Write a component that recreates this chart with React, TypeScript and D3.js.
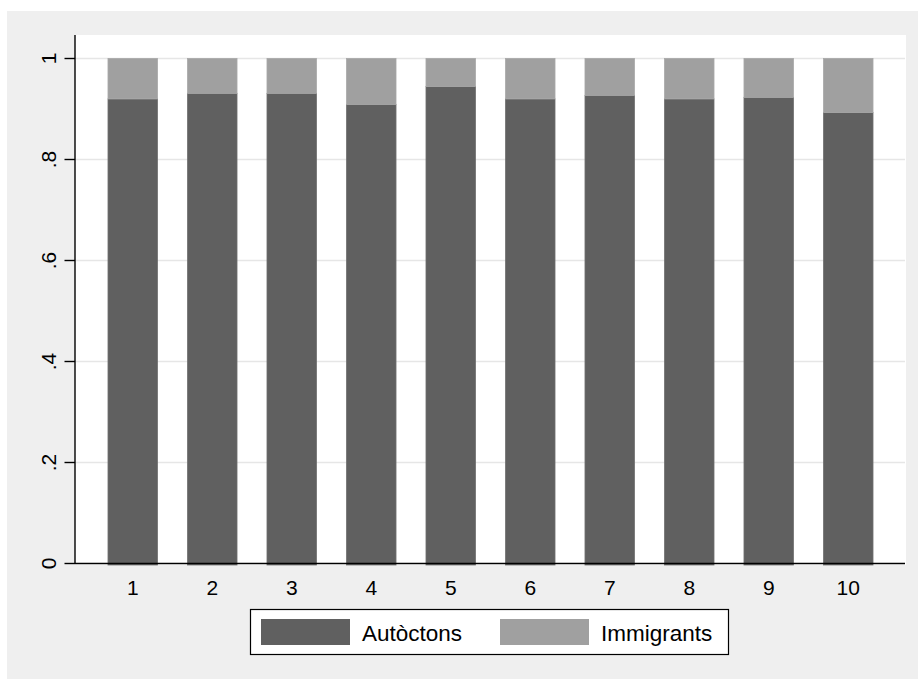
import React from "react";
import * as d3 from "d3";

const categories = ["1", "2", "3", "4", "5", "6", "7", "8", "9", "10"];
const autoctons = [0.92, 0.931, 0.931, 0.909, 0.9445, 0.92, 0.927, 0.92, 0.923, 0.893];
const immigrants = autoctons.map((v) => 1 - v);
const yTicks = [0, 0.2, 0.4, 0.6, 0.8, 1];
const yTickLabels = ["0", ".2", ".4", ".6", ".8", "1"];
const seriesNames = ["Autòctons", "Immigrants"];
const seriesColors = ["#606060", "#a0a0a0"];

const W = 918;
const H = 679;
const plot = { left: 75, right: 906, top: 35, bottom: 565 };
const font = "'Liberation Sans', Arial, Helvetica, sans-serif";

export default function App() {
  const x = d3
    .scaleBand<string>()
    .domain(categories)
    .range([plot.left, plot.right])
    .paddingInner(0.377)
    .paddingOuter(0.415);
  const y = d3.scaleLinear().domain([0, 1]).range([563.5, 58.5]);

  const rows = categories.map((c, i) => ({ cat: c, a: autoctons[i], b: immigrants[i] }));
  const stack = d3.stack<any>().keys(["a", "b"])(rows);

  return (
    <svg
      width={W}
      height={H}
      style={{ position: "absolute", left: 0, top: 0, fontFamily: font }}
    >
      <rect x={7} y={11} width={W - 7} height={H - 11} fill="#efefef" />
      <rect x={plot.left} y={plot.top} width={plot.right - plot.left} height={plot.bottom - plot.top} fill="#ffffff" />
      {yTicks.slice(1).map((t) => (
        <line key={t} x1={plot.left} x2={905} y1={y(t)} y2={y(t)} stroke="#e6e6e6" strokeWidth={1.6} />
      ))}
      {stack.map((s, si) => (
        <g key={si}>
          {s.map((d: any, i: number) => (
            <rect
              key={i}
              x={x(categories[i])!}
              width={x.bandwidth()}
              y={y(d[1])}
              height={y(d[0]) - y(d[1]) + (si === 0 ? 1.5 : 0)}
              fill={seriesColors[si]}
              stroke={si === 0 ? "#707070" : "#a8a8a8"}
              strokeWidth={0.8}
            />
          ))}
        </g>
      ))}
      <line x1={plot.left} x2={905} y1={y(0)} y2={y(0)} stroke="#000" strokeWidth={1.4} />
      <line x1={plot.left} x2={plot.left} y1={plot.top} y2={y(0)} stroke="#000" strokeWidth={1.4} />
      {yTicks.map((t, i) => (
        <g key={t}>
          <line x1={64.5} x2={plot.left} y1={y(t)} y2={y(t)} stroke="#000" strokeWidth={1.4} />
          <text
            transform={`translate(56,${y(t)}) rotate(-90)`}
            textAnchor="middle"
            fontSize={21}
            fill="#000"
          >
            {yTickLabels[i]}
          </text>
        </g>
      ))}
      {categories.map((c) => (
        <text key={c} x={x(c)! + x.bandwidth() / 2} y={595} textAnchor="middle" fontSize={21} fill="#000">
          {c}
        </text>
      ))}
      <g>
        <rect x={250.5} y={609.5} width={478} height={45} fill="#fff" stroke="#000" strokeWidth={1.2} />
        {seriesNames.map((n, i) => {
          const sx = i === 0 ? 261 : 500;
          return (
            <g key={n}>
              <rect x={sx} y={619} width={89} height={26} fill={seriesColors[i]} />
              <text x={sx + 101} y={640.5} fontSize={22.5} fill="#000">
                {n}
              </text>
            </g>
          );
        })}
      </g>
    </svg>
  );
}
